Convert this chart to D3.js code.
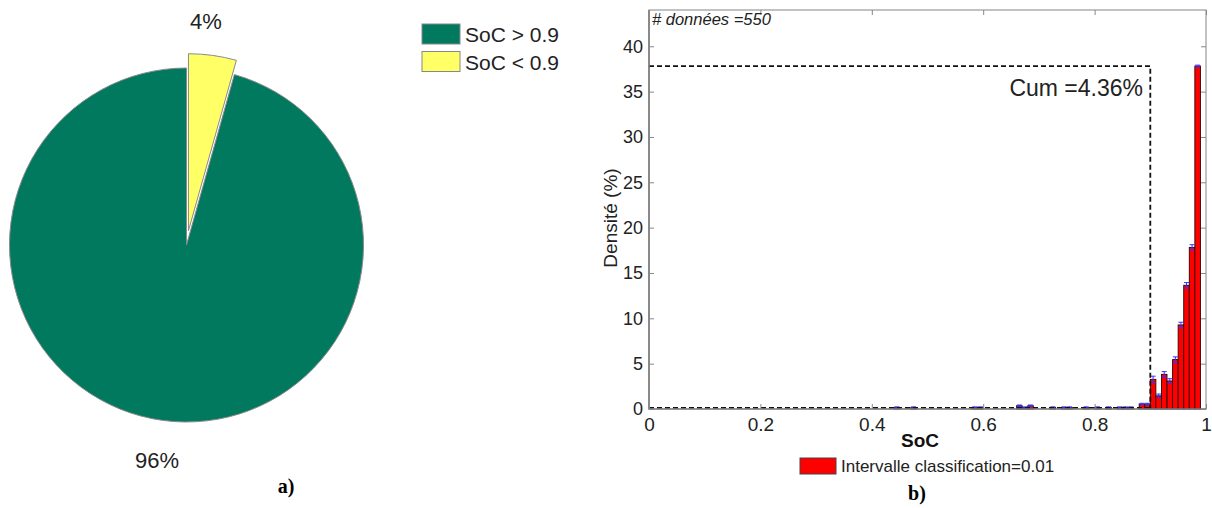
<!DOCTYPE html>
<html><head><meta charset="utf-8">
<script src="https://cdn.jsdelivr.net/npm/d3@7"></script>
<style>body{margin:0;background:#fff}svg{display:block}text{font-family:"Liberation Sans",Arial,sans-serif}text.serif{font-family:"Liberation Serif","Times New Roman",serif}</style>
</head><body><svg id="c" width="1212" height="508"></svg>
<script>
// ---- Pie data ----
const pieLabels = ["SoC > 0.9", "SoC < 0.9"];
const pieValues = [95.64, 4.36];
const pieTexts = ["96%", "4%"];
const pieColors = ["#00795f", "#ffff66"];
// ---- Histogram data (bin start, % density) ----
const binStarts = [0.44,0.47,0.58,0.59,0.66,0.67,0.68,0.72,0.74,0.75,0.78,0.80,0.82,0.84,0.85,0.86,0.88,0.89,
                   0.90,0.91,0.92,0.93,0.94,0.95,0.96,0.97,0.98];
const density   = [0.18,0.18,0.18,0.18,0.36,0.18,0.36,0.18,0.18,0.18,0.18,0.18,0.18,0.18,0.18,0.18,0.55,0.55,
                   3.27,1.45,3.82,3.09,5.45,9.27,13.64,17.82,37.82];
const errBar    = [0.05,0.05,0.05,0.05,0.08,0.05,0.08,0.05,0.05,0.05,0.05,0.05,0.05,0.05,0.05,0.05,0.08,0.08,
                   0.35,0.2,0.3,0.25,0.3,0.3,0.3,0.3,0.1];
const binWidth = 0.01;
const xTicks = [0, 0.2, 0.4, 0.6, 0.8, 1];
const yTicks = [0, 5, 10, 15, 20, 25, 30, 35, 40];
const cumThreshold = 0.9, cumPct = 4.36, nData = 550;

const svg = d3.select("#c");

// ===== Pie =====
const cx = 186.5, cy = 245, R = 177;
const pie = d3.pie().sort(null).startAngle(0).endAngle(2*Math.PI);
const arcsData = pie([pieValues[1], pieValues[0]]);
const arc = d3.arc().innerRadius(0).outerRadius(R);
const pg = svg.append("g").attr("transform", `translate(${cx},${cy})`);
arcsData.forEach((d, i) => {
  const idx = i === 0 ? 1 : 0;
  const mid = (d.startAngle + d.endAngle) / 2;
  const off = idx === 1 ? 14.4 : 0;
  pg.append("path").attr("d", arc(d))
    .attr("transform", `translate(${off*Math.sin(mid)},${-off*Math.cos(mid)})`)
    .attr("fill", pieColors[idx]).attr("stroke", "#8a8a8a").attr("stroke-width", 1);
});
svg.append("text").attr("x", 206).attr("y", 29).attr("text-anchor", "middle")
  .attr("font-size", 22).attr("fill", "#222").text(pieTexts[1]);
svg.append("text").attr("x", 157).attr("y", 468).attr("text-anchor", "middle")
  .attr("font-size", 22).attr("fill", "#222").text(pieTexts[0]);
pieLabels.forEach((l, i) => {
  svg.append("rect").attr("x", 422).attr("y", 24 + i*27.5).attr("width", 38).attr("height", 20)
    .attr("fill", pieColors[i]).attr("stroke", "#888");
  svg.append("text").attr("x", 465).attr("y", 42 + i*27.5).attr("font-size", 21).attr("fill", "#222").text(l);
});
svg.append("text").attr("class", "serif").attr("x", 286).attr("y", 493).attr("text-anchor", "middle")
  .attr("font-weight", "bold").attr("font-size", 20).text("a)");

// ===== Histogram =====
const L = 649, Rr = 1206, T = 10, B = 409;
const x = d3.scaleLinear().domain([0, 1]).range([L, Rr]);
const y = d3.scaleLinear().domain([0, 44]).range([B, T]);
const hg = svg.append("g");
binStarts.forEach((b, i) => {
  hg.append("rect").attr("x", x(b)).attr("y", y(density[i]))
    .attr("width", x(b + binWidth) - x(b)).attr("height", y(0) - y(density[i]))
    .attr("fill", "#ff0000").attr("stroke", "#300").attr("stroke-width", 0.9);
});
binStarts.forEach((b, i) => {
  const xc = x(b + binWidth/2), w = 2.5;
  const y1 = y(density[i] + errBar[i]), y0 = y(density[i] - errBar[i]);
  hg.append("path").attr("d", `M${xc},${y0}V${y1}M${xc-w},${y1}H${xc+w}M${xc-w},${y0}H${xc+w}`)
    .attr("stroke", "#3333ff").attr("stroke-width", 1).attr("fill", "none");
});
const topY = density[density.length - 1];
hg.append("path")
  .attr("d", `M${x(0)},${y(topY)}H${x(cumThreshold)}V${y(0)}`)
  .attr("stroke", "#111").attr("stroke-width", 1.8).attr("stroke-dasharray", "5,3").attr("fill", "none");
hg.append("path")
  .attr("d", `M${x(0)},${y(0.12)}H${x(cumThreshold)}`)
  .attr("stroke", "#111").attr("stroke-width", 1.8).attr("stroke-dasharray", "5,3").attr("fill", "none");
hg.append("rect").attr("x", L).attr("y", T).attr("width", Rr - L).attr("height", B - T)
  .attr("fill", "none").attr("stroke", "#999").attr("stroke-width", 1.2);
hg.append("path").attr("d", `M${L},${T}V${B}H${Rr}`).attr("stroke", "#666").attr("fill", "none").attr("stroke-width", 1.2);
const xAxis = d3.axisBottom(x).tickValues(xTicks).tickSize(-5).tickPadding(9)
  .tickFormat(d => d === 0 || d === 1 ? d3.format("d")(d) : d3.format(".1f")(d));
const gx = hg.append("g").attr("transform", `translate(0,${B})`).call(xAxis);
gx.select(".domain").remove();
gx.selectAll("line").attr("stroke", "#888");
gx.selectAll("text").attr("font-size", 19).attr("fill", "#222").attr("font-family", "Liberation Sans");
const gxTop = hg.append("g").attr("transform", `translate(0,${T})`).call(d3.axisTop(x).tickValues(xTicks).tickSize(-5).tickFormat(""));
gxTop.select(".domain").remove(); gxTop.selectAll("line").attr("stroke", "#888");
const yAxis = d3.axisLeft(y).tickValues(yTicks).tickSize(-5).tickPadding(6);
const gy = hg.append("g").attr("transform", `translate(${L},0)`).call(yAxis);
gy.select(".domain").remove();
gy.selectAll("line").attr("stroke", "#888");
gy.selectAll("text").attr("font-size", 18).attr("fill", "#222").attr("font-family", "Liberation Sans");
const gyR = hg.append("g").attr("transform", `translate(${Rr},0)`).call(d3.axisRight(y).tickValues(yTicks).tickSize(-5).tickFormat(""));
gyR.select(".domain").remove(); gyR.selectAll("line").attr("stroke", "#888");

svg.append("text").attr("x", 652).attr("y", 25).attr("font-size", 16.5).attr("font-style", "italic")
  .attr("fill", "#222").text(`# données =${nData}`);
svg.append("text").attr("x", 1143).attr("y", 96).attr("text-anchor", "end").attr("font-size", 23)
  .attr("fill", "#222").text(`Cum =${cumPct}%`);
svg.append("text").attr("transform", `translate(617,218) rotate(-90)`).attr("text-anchor", "middle")
  .attr("font-size", 19).attr("fill", "#222").text("Densité (%)");
svg.append("text").attr("x", 920).attr("y", 447).attr("text-anchor", "middle").attr("font-size", 19)
  .attr("font-weight", "bold").attr("fill", "#111").text("SoC");
svg.append("rect").attr("x", 800).attr("y", 458).attr("width", 36).attr("height", 16)
  .attr("fill", "#ff0000").attr("stroke", "#444");
svg.append("text").attr("x", 841).attr("y", 472).attr("font-size", 17).attr("fill", "#222")
  .text("Intervalle classification=0.01");
svg.append("text").attr("class", "serif").attr("x", 917).attr("y", 500).attr("text-anchor", "middle")
  .attr("font-weight", "bold").attr("font-size", 20).text("b)");
</script></body></html>
